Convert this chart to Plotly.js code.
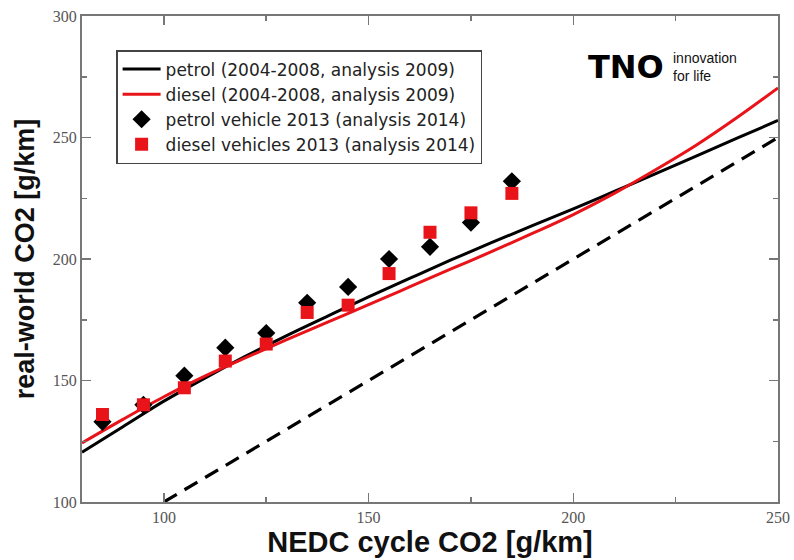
<!DOCTYPE html>
<html>
<head>
<meta charset="utf-8">
<script src="https://cdn.plot.ly/plotly-3.0.1.min.js"></script>
<style>html,body{margin:0;padding:0;background:#fff;}#chart{width:794px;height:560px;}</style>
</head>
<body>
<div id="chart"></div>
<script>
// NEDC CO2 bins for 2013 vehicles
const binX = [85, 95, 105, 115, 125, 135, 145, 155, 165, 175, 185];
const petrol2013 = [133, 140, 152, 163.5, 169.5, 182, 188.5, 200, 205, 215, 232];
const diesel2013 = [136, 140, 147, 158, 165, 178, 181, 194, 211, 219, 227];

// analysis 2009 curves
const curveX = [80, 90, 100, 110, 120, 130, 140, 150, 160, 170, 180, 190, 200, 210, 220, 230, 240, 250];
const petrolCurve = [120.5, 131, 141.5, 151, 160, 168.5, 176.5, 184.4, 192, 199.5, 206.7, 213.7, 220.6, 227.8, 235, 242.3, 249.7, 257];
const dieselCurve = [124.3, 134, 143.3, 151.8, 159.4, 166.8, 174, 181.2, 188.5, 195.8, 203, 210.5, 218.3, 227, 236.6, 246.8, 258.2, 270.4];

// reference line real-world = NEDC
const refX = [100, 250];
const refY = [100, 250];

const names = ['petrol (2004-2008, analysis 2009)', 'diesel (2004-2008, analysis 2009)',
               'petrol vehicle 2013 (analysis 2014)', 'diesel vehicles 2013 (analysis 2014)'];

const traces = [
  {x: refX, y: refY, mode: 'lines', line: {color: '#000', width: 3.2, dash: '15px,9px'}, showlegend: false, hoverinfo: 'skip'},
  {x: curveX, y: petrolCurve, mode: 'lines', name: names[0], line: {color: '#000', width: 3, shape: 'spline', smoothing: 1}},
  {x: curveX, y: dieselCurve, mode: 'lines', name: names[1], line: {color: '#e8141a', width: 3, shape: 'spline', smoothing: 1}},
  {x: binX, y: petrol2013, mode: 'markers', name: names[2], marker: {symbol: 'diamond', size: 14, color: '#000'}},
  {x: binX, y: diesel2013, mode: 'markers', name: names[3], marker: {symbol: 'square', size: 13, color: '#e8141a'}}
];

const axisCommon = {
  showline: true, linecolor: '#777', linewidth: 2, mirror: 'allticks',
  ticks: 'inside', ticklen: 9, tickwidth: 1.5, tickcolor: '#777',
  showgrid: false, zeroline: false,
  tickfont: {family: 'Liberation Serif, serif', size: 16, color: '#555'},
  minor: {ticks: 'inside', ticklen: 5, tickwidth: 1.5, tickcolor: '#777', dtick: 25, showgrid: false}
};

const layout = {
  width: 794, height: 560,
  margin: {l: 82, r: 16, t: 16, b: 58},
  paper_bgcolor: '#fff', plot_bgcolor: '#fff',
  showlegend: true,
  xaxis: Object.assign({}, axisCommon, {
    range: [80, 250], tickvals: [100, 150, 200, 250], ticktext: ['100', '150', '200', '250'],
    minor: Object.assign({}, axisCommon.minor, {tick0: 75, dtick: 25}),
    title: {text: '<b>NEDC cycle CO2 [g/km]</b>', font: {family: 'Liberation Sans, Arial, sans-serif', size: 29, color: '#111'}, standoff: 0}
  }),
  yaxis: Object.assign({}, axisCommon, {
    range: [100, 300], tickvals: [100, 150, 200, 250, 300], ticktext: ['100', '150', '200', '250', '300'],
    minor: Object.assign({}, axisCommon.minor, {tick0: 75, dtick: 25}),
    title: {text: '<b>real-world CO2 [g/km]</b>', font: {family: 'Liberation Sans, Arial, sans-serif', size: 27, color: '#111'}, standoff: 10}
  }),
  legend: {
    x: 0.049, y: 0.93, xanchor: 'left', yanchor: 'top',
    bgcolor: '#fff', bordercolor: '#444', borderwidth: 1.5,
    font: {family: 'DejaVu Sans, sans-serif', size: 17, color: '#222'},
    itemwidth: 38,
    tracegroupgap: 0
  },
  annotations: [
    {xref: 'paper', yref: 'paper', x: 0.782, y: 0.895, xanchor: 'center', yanchor: 'middle', showarrow: false,
     text: '<b>TNO</b>', font: {family: 'DejaVu Sans, sans-serif', size: 32, color: '#000'}},
    {xref: 'paper', yref: 'paper', x: 0.846, y: 0.895, xanchor: 'left', yanchor: 'middle', showarrow: false, align: 'left',
     text: 'innovation<br>for life', font: {family: 'Liberation Sans, Arial, sans-serif', size: 14, color: '#111'}}
  ]
};

Plotly.newPlot('chart', traces, layout, {staticPlot: true, displayModeBar: false});
</script>
</body>
</html>
